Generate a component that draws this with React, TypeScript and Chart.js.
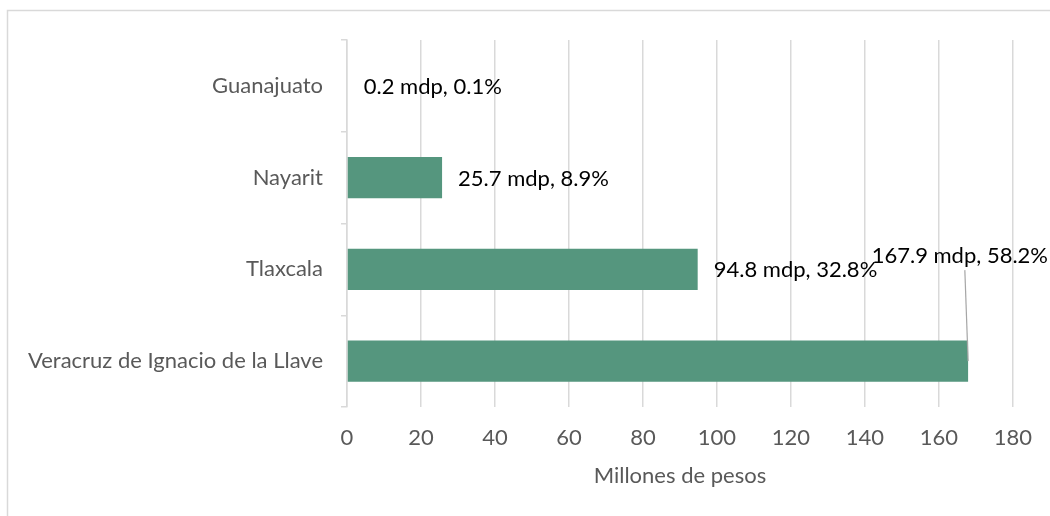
import React, { useEffect, useRef } from "react";
import { Chart, registerables } from "chart.js";

Chart.register(...registerables);

const categories = ["Guanajuato", "Nayarit", "Tlaxcala", "Veracruz de Ignacio de la Llave"];
const values = [0.2, 25.7, 94.8, 167.9];
const shares = [0.1, 8.9, 32.8, 58.2];
const axisTitle = "Millones de pesos";

const FONT = "Lato, 'Open Sans', sans-serif";
const GRAY = "#d9d9d9";
const TEXT = "#595959";

const framePlugin = {
  id: "frame",
  beforeDraw(chart: any) {
    const ctx = chart.ctx;
    ctx.save();
    ctx.strokeStyle = GRAY;
    ctx.lineWidth = 1.5;
    ctx.strokeRect(7.5, 10.5, 1200, 700);
    ctx.restore();
  },
};

const labelPlugin = {
  id: "barLabels",
  afterDatasetsDraw(chart: any) {
    const ctx = chart.ctx;
    const meta = chart.getDatasetMeta(0);
    ctx.save();
    ctx.font = `22px ${FONT}`;
    ctx.fillStyle = "#000000";
    ctx.textBaseline = "middle";
    meta.data.forEach((el: any, i: number) => {
      const text = `${values[i]} mdp, ${shares[i]}%`;
      const w = ctx.measureText(text).width;
      let lx = el.x + 16;
      if (lx + w > chart.width - 2) {
        const right = chart.width - 2;
        const ly = el.y - 105;
        ctx.textAlign = "right";
        ctx.fillText(text, right, ly);
        ctx.strokeStyle = "#a6a6a6";
        ctx.lineWidth = 1.2;
        ctx.beginPath();
        ctx.moveTo(right - w / 2 + 5, ly + 14);
        ctx.lineTo(el.x, el.y);
        ctx.stroke();
      } else {
        ctx.textAlign = "left";
        ctx.fillText(text, lx, el.y + 1);
      }
    });
    ctx.restore();
  },
};

export default function App() {
  const ref = useRef<HTMLCanvasElement>(null);
  useEffect(() => {
    if (!ref.current) return;
    const chart = new Chart(ref.current, {
      type: "bar",
      data: {
        labels: categories,
        datasets: [
          {
            data: values,
            backgroundColor: "#55967E",
            barPercentage: 0.45,
            categoryPercentage: 1,
          },
        ],
      },
      options: {
        indexAxis: "y",
        animation: false,
        responsive: true,
        maintainAspectRatio: false,
        layout: { padding: { left: 0, top: 40, right: 32, bottom: 0 } },
        plugins: { legend: { display: false }, tooltip: { enabled: false } },
        scales: {
          x: {
            min: 0,
            max: 180,
            ticks: { stepSize: 20, color: TEXT, font: { family: FONT, size: 22 }, padding: 18 },
            grid: { color: GRAY, lineWidth: 1.5, drawTicks: false },
            border: { display: false },
            title: {
              display: true,
              text: axisTitle,
              color: TEXT,
              font: { family: FONT, size: 22 },
              padding: { top: 0, bottom: 27 },
            },
            afterFit(scale: any) {
              scale.height = 109;
            },
          },
          y: {
            ticks: { color: TEXT, font: { family: FONT, size: 22 }, padding: 18 },
            grid: { color: GRAY, lineWidth: 1.5, drawOnChartArea: false, drawTicks: true, tickLength: 6, offset: true },
            border: { display: true, color: GRAY, width: 1.5 },
            afterFit(scale: any) {
              scale.width = 347;
            },
          },
        },
      },
      plugins: [framePlugin, labelPlugin],
    });
    return () => chart.destroy();
  }, []);
  return (
    <div style={{ position: "absolute", left: 0, top: 0, width: 1050, height: 516 }}>
      <canvas ref={ref} />
    </div>
  );
}
